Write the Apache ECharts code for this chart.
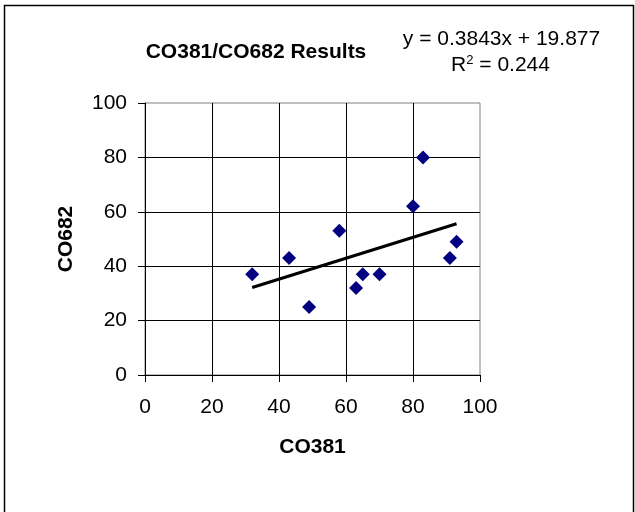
<!DOCTYPE html>
<html>
<head>
<meta charset="utf-8">
<script src="https://cdn.jsdelivr.net/npm/echarts@6/dist/echarts.min.js"></script>
<style>
html,body{margin:0;padding:0;background:#fff;}
#chart{width:635px;height:512px;}
</style>
</head>
<body>
<div id="chart"></div>
<script>
// Data
const co381 = [32, 43, 49, 58, 63, 65, 70, 80, 83, 91, 93];
const co682 = [37, 43, 25, 53, 32, 37, 37, 62, 80, 43, 49];
const xTicks = [0, 20, 40, 60, 80, 100];
const yTicks = [0, 20, 40, 60, 80, 100];
const slope = 0.3843;
const intercept = 19.877;
const rSquared = 0.244;
const chartTitle = 'CO381/CO682 Results';
const xName = 'CO381';
const yName = 'CO682';

const points = co381.map((x, i) => [x, co682[i]]);
const xMin = Math.min(...co381), xMax = Math.max(...co381);
const trend = [[xMin, slope * xMin + intercept], [xMax, slope * xMax + intercept]];

const FONT = '"Liberation Sans", Arial, sans-serif';
const chart = echarts.init(document.getElementById('chart'), null, {renderer: 'canvas'});
chart.setOption({
  animation: false,
  backgroundColor: '#fff',
  textStyle: {fontFamily: FONT},
  title: {
    text: chartTitle,
    left: 251, top: 37, textAlign: 'center',
    textStyle: {fontFamily: FONT, fontSize: 21, fontWeight: 'bold', color: '#000'}
  },
  grid: {
    left: 145, right: 155, top: 103, bottom: 137,
    show: true, borderColor: '#808080', borderWidth: 1, backgroundColor: 'transparent'
  },
  xAxis: {
    type: 'value', min: xTicks[0], max: xTicks[xTicks.length - 1], interval: xTicks[1] - xTicks[0],
    name: xName, nameLocation: 'middle', nameGap: 62,
    nameTextStyle: {fontFamily: FONT, fontSize: 21, fontWeight: 'bold', color: '#000'},
    axisLine: {show: true, lineStyle: {color: '#000', width: 1}},
    axisTick: {show: true, length: 7, lineStyle: {color: '#000'}},
    axisLabel: {margin: 22, fontFamily: FONT, fontSize: 21, color: '#000'},
    splitLine: {show: true, showMinLine: false, showMaxLine: false, lineStyle: {color: '#000', width: 1}}
  },
  yAxis: {
    type: 'value', min: yTicks[0], max: yTicks[yTicks.length - 1], interval: yTicks[1] - yTicks[0],
    name: yName, nameLocation: 'middle', nameGap: 68, nameRotate: 90,
    nameTextStyle: {fontFamily: FONT, fontSize: 21, fontWeight: 'bold', color: '#000'},
    axisLine: {show: true, lineStyle: {color: '#000', width: 1}},
    axisTick: {show: true, length: 7, lineStyle: {color: '#000'}},
    axisLabel: {margin: 18, fontFamily: FONT, fontSize: 21, color: '#000'},
    splitLine: {show: true, showMinLine: false, showMaxLine: false, lineStyle: {color: '#000', width: 1}}
  },
  series: [
    {
      type: 'line', data: trend, symbol: 'none', silent: true, z: 3,
      lineStyle: {color: '#000', width: 3}
    },
    {
      type: 'scatter', data: points, symbol: 'diamond', symbolSize: 14, z: 4,
      itemStyle: {color: '#000080', opacity: 1}
    }
  ],
  graphic: [
    {
      type: 'rect', silent: true,
      shape: {x: 4.5, y: 5.5, width: 629, height: 600},
      style: {fill: 'none', stroke: '#000', lineWidth: 1.5}
    },
    {
      type: 'text', x: 501.5, y: 39,
      style: {
        text: 'y = ' + slope + 'x + ' + intercept,
        font: '21px ' + FONT, fill: '#000', align: 'center', verticalAlign: 'middle'
      }
    },
    {
      type: 'text', x: 500.5, y: 65,
      style: {
        text: 'R{sup|2} = ' + rSquared,
        font: '21px ' + FONT, fill: '#000', align: 'center', verticalAlign: 'middle',
        rich: {sup: {fontSize: 13, verticalAlign: 'top', padding: [0, 0, 10, 0], fill: '#000', fontFamily: FONT}}
      }
    }
  ]
});
</script>
</body>
</html>
